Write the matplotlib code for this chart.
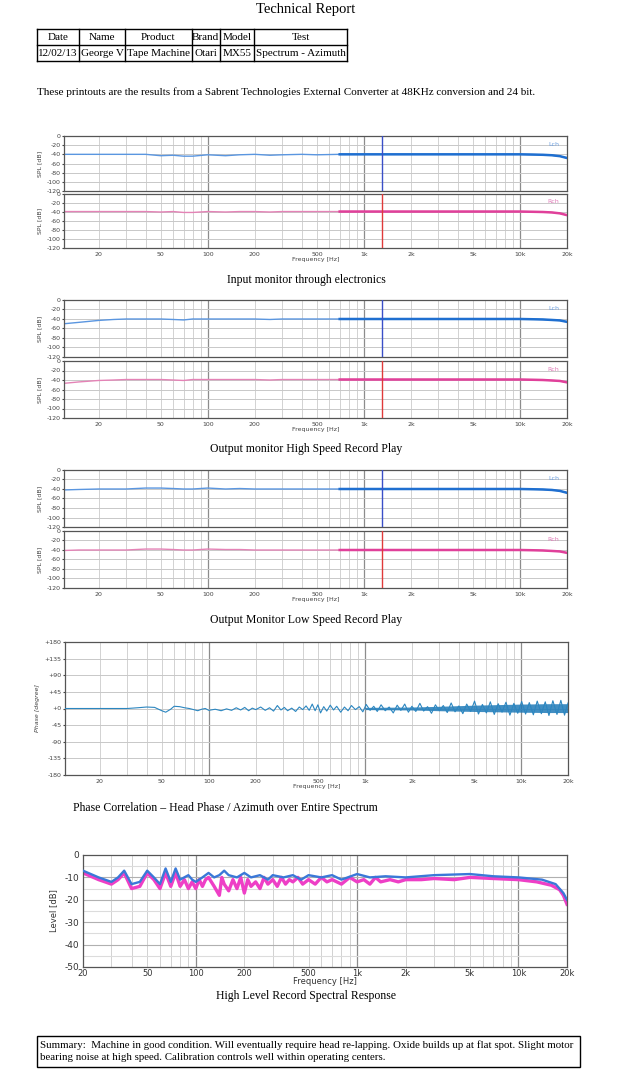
import numpy as np
import matplotlib.pyplot as plt

W, H = 637, 1080
SERIF = 'Liberation Serif'

# ---- table / text data
table_head = ['Date', 'Name', 'Product', 'Brand', 'Model', 'Test']
table_row = ['12/02/13', 'George V', 'Tape Machine', 'Otari', 'MX55', 'Spectrum - Azimuth']
intro = 'These printouts are the results from a Sabrent Technologies External Converter at 48KHz conversion and 24 bit.'
captions = ['Input monitor through electronics',
            'Output monitor High Speed Record Play',
            'Output Monitor Low Speed Record Play',
            'Phase Correlation \u2013 Head Phase / Azimuth over Entire Spectrum',
            'High Level Record Spectral Response']
summary = ('Summary:  Machine in good condition. Will eventually require head re-lapping. Oxide builds up at flat spot. Slight motor\n'
           'bearing noise at high speed. Calibration controls well within operating centers.')

# ---- SPL spectra (dB), three tests, left / right channel
spl_freq = [12, 15, 20, 25, 30, 40, 50, 60, 70, 80, 100, 130, 160, 200, 250, 300, 400, 500, 700,
            1000, 1300, 2000, 3000, 5000, 7000, 10000, 12000, 14000, 16000, 18000, 20000]
c1_lch = [-40, -40, -40, -40, -40, -40, -43, -42, -44, -44, -41, -43, -41, -40, -42, -41, -40, -41, -40,
          -40, -40, -40, -40, -40, -40, -40, -40.5, -41, -42, -44, -48]
c1_rch = [-39, -39, -39, -39, -39, -39, -40, -39, -41, -41, -39, -40, -39, -39, -40, -39, -39, -39, -39,
          -39, -39, -39, -39, -39, -39, -39, -39.5, -40, -41, -43, -47]
c2_lch = [-50, -47, -43, -41, -40, -40, -40, -41, -42, -40, -40, -40, -40, -40, -41, -40, -40, -40, -40,
          -40, -40, -40, -40, -40, -40, -40, -40.5, -41, -42, -43, -46]
c2_rch = [-47, -44, -41, -40, -39, -39, -39, -40, -41, -39, -39, -39, -39, -39, -40, -39, -39, -39, -39,
          -39, -39, -39, -39, -39, -39, -39, -39.5, -40, -41, -42, -45]
c3_lch = [-42, -41, -40, -40, -40, -38, -38, -39, -40, -40, -38, -40, -39, -40, -40, -40, -40, -40, -40,
          -40, -40, -40, -40, -40, -40, -40, -40.5, -41, -42, -44, -48]
c3_rch = [-41, -40, -40, -40, -40, -38, -38, -39, -40, -40, -38, -39, -39, -40, -40, -40, -40, -40, -40,
          -40, -40, -40, -40, -40, -40, -40, -40.5, -41, -42, -43, -46]
marker_freq = 1300

# ---- phase correlation (degrees)
phase_pts = [(12, 0), (15, 0), (20, 0), (25, 0), (30, 0), (35, 2), (40, 4), (45, 3), (50, -6), (53, -10),
             (57, -2), (60, 6), (65, 5), (70, 2), (75, 0), (80, -3), (85, -6), (90, -2), (95, 0), (100, -5),
             (110, -2), (120, -6), (130, -1), (140, -5), (150, 2), (160, -4), (170, 3), (180, -6), (190, 1),
             (200, -3), (215, 4), (230, -5), (245, 2), (260, -7), (275, 8), (290, -4), (305, 3), (320, -6),
             (340, 1), (360, -8), (380, 4), (400, -3), (420, 7), (440, -5), (460, 12), (480, -6), (500, 10),
             (520, -12), (545, 5), (570, -7), (600, 9), (630, -4), (660, 6), (700, -10), (740, 4), (780, -6),
             (820, 8), (870, -3), (920, 5), (970, -9), (1020, 11), (1080, -5), (1140, 6), (1200, -8),
             (1270, 10), (1350, -6), (1430, 4), (1520, -12), (1610, 9), (1700, -5), (1800, 12), (1900, -10),
             (2000, 6), (2120, -8), (2250, 14), (2380, -7), (2520, 5), (2670, -13), (2830, 10), (3000, -6),
             (3180, 8), (3370, -11), (3570, 15), (3780, -9), (4000, 7), (4240, -14), (4490, 12), (4760, -8),
             (5040, 20), (5340, -15), (5660, 11), (6000, -12), (6360, 18), (6740, -16), (7140, 13),
             (7560, -10), (8010, 17), (8490, -18), (9000, 14), (9530, -13), (10100, 19), (10700, -15),
             (11300, 16), (12000, -17), (12700, 20), (13500, -14), (14300, 18), (15100, -19), (16000, 21),
             (17000, -16), (18000, 22), (19000, -18), (20000, 15)]
phase_band_freq = [1000, 2000, 3000, 5000, 10000, 15000, 20000]
phase_band_lo = [-3, -4, -6, -8, -10, -11, -11]
phase_band_hi = [3, 4, 6, 9, 12, 13, 13]

# ---- high level record response (dB)
hl_lch = [(20, -7), (25, -10), (30, -12), (33, -10), (36, -7), (40, -13), (45, -12), (50, -7), (55, -10),
          (60, -13), (65, -6), (70, -12), (75, -6), (80, -11), (90, -9), (95, -11), (100, -12), (110, -10),
          (120, -8), (130, -10), (140, -9), (150, -7), (160, -9), (180, -10), (200, -8), (220, -10),
          (250, -9), (280, -11), (300, -9), (350, -10), (400, -9), (450, -11), (500, -9), (600, -10),
          (700, -9), (800, -11), (1000, -8.5), (1200, -10), (1500, -9.5), (2000, -10), (3000, -9),
          (5000, -8.5), (7000, -9.5), (10000, -10), (14000, -11), (17000, -13), (19000, -17), (20000, -20)]
hl_rch = [(20, -8), (25, -11), (30, -13), (33, -11), (36, -8), (40, -15), (45, -14), (50, -8), (55, -11),
          (60, -15), (65, -8), (70, -14), (75, -8), (80, -14), (85, -11), (90, -15), (95, -12), (100, -15),
          (105, -11), (110, -14), (115, -11), (120, -10), (130, -14), (140, -18), (145, -10), (150, -13),
          (160, -16), (170, -11), (180, -15), (190, -10), (200, -17), (210, -11), (220, -14), (235, -12),
          (250, -15), (265, -10), (280, -13), (300, -11), (320, -14), (340, -10), (360, -13), (380, -11),
          (400, -12), (430, -10), (460, -13), (500, -11), (550, -13), (600, -10), (650, -12), (700, -11),
          (800, -13), (900, -10), (1000, -12), (1100, -11), (1200, -13), (1300, -10), (1400, -12),
          (1600, -11), (1800, -12), (2000, -11), (2500, -11), (3000, -10.5), (4000, -11), (5000, -10),
          (7000, -10.5), (10000, -11), (13000, -12), (16000, -13.5), (18000, -15.5), (19000, -18),
          (20000, -22)]

freq_ticks = [20, 50, 100, 200, 500, 1000, 2000, 5000, 10000, 20000]
freq_labels = ['20', '50', '100', '200', '500', '1k', '2k', '5k', '10k', '20k']

fig = plt.figure(figsize=(W / 100, H / 100), dpi=100)
fig.patch.set_facecolor('white')


def pax(x0, y0, x1, y1):
    return fig.add_axes([x0 / W, 1 - y1 / H, (x1 - x0) / W, (y1 - y0) / H])


def freq_grid(ax, lo):
    minor = [f for d in (10, 100, 1000) for f in np.arange(2, 10) * d if f > lo]
    for f in minor:
        ax.axvline(f, color='#d2d2d2', lw=0.7, zorder=0)
    for f in (100, 1000, 10000):
        ax.axvline(f, color='#8c8c8c', lw=0.9, zorder=0)


def style_ax(ax, lo, hi):
    ax.set_xscale('log')
    ax.set_xlim(lo, hi)
    for s in ax.spines.values():
        s.set_color('#555555')
        s.set_linewidth(0.9)
    ax.minorticks_off()


def spl_panel(ax, lev, c_lf, c_hf, tag, c_tag, c_mark, bottom):
    style_ax(ax, 12, 20000)
    ax.set_ylim(-120, 0)
    freq_grid(ax, 12)
    ax.set_yticks(range(-120, 1, 20))
    ax.set_yticklabels([str(v) for v in range(-120, 1, 20)])
    for v in range(-100, 0, 20):
        ax.axhline(v, color='#c8c8c8', lw=0.7, zorder=0)
    ax.tick_params(axis='y', labelsize=4.5, colors='#444444', length=1.5, pad=1)
    f = np.array(spl_freq)
    l = np.array(lev)
    ax.plot(f, l, color=c_lf, lw=1.0, zorder=2)
    hf = f >= 700
    ax.plot(f[hf], l[hf], color=c_hf, lw=1.8, zorder=3)
    ax.axvline(marker_freq, color=c_mark, lw=1.0, zorder=4)
    ax.text(0.985, 0.9, tag, transform=ax.transAxes, ha='right', va='top', fontsize=4.5, color=c_tag)
    ax.set_ylabel('SPL [dB]', fontsize=4.5, color='#444444', labelpad=3)
    if bottom:
        ax.set_xticks(freq_ticks)
        ax.set_xticklabels(freq_labels)
        ax.tick_params(axis='x', labelsize=4.5, colors='#444444', length=0, pad=3)
        ax.set_xlabel('Frequency [Hz]', fontsize=4.5, color='#444444', labelpad=0)
    else:
        ax.set_xticks([])


# page layer in pixel coordinates
page = fig.add_axes([0, 0, 1, 1])
page.set_xlim(0, W)
page.set_ylim(H, 0)
page.axis('off')

page.text(306, 10, 'Technical Report', ha='center', va='center', fontsize=10.5, family=SERIF)
cols = [37, 79, 125, 191.5, 220, 254, 347]
rows = [29, 45, 61]
for x in cols:
    page.plot([x, x], [rows[0], rows[-1]], color='black', lw=1.0)
for y in rows:
    page.plot([cols[0], cols[-1]], [y, y], color='black', lw=1.0)
for i in range(len(table_head)):
    xc = (cols[i] + cols[i + 1]) / 2
    page.text(xc, 37.5, table_head[i], ha='center', va='center', fontsize=8, family=SERIF)
    page.text(xc, 53.5, table_row[i], ha='center', va='center', fontsize=8, family=SERIF)
page.text(37, 92, intro, ha='left', va='center', fontsize=8, family=SERIF)

page.text(306, 280, captions[0], ha='center', va='center', fontsize=8.5, family=SERIF)
page.text(306, 449, captions[1], ha='center', va='center', fontsize=8.5, family=SERIF)
page.text(306, 620, captions[2], ha='center', va='center', fontsize=8.5, family=SERIF)
page.text(73, 808, captions[3], ha='left', va='center', fontsize=8.5, family=SERIF)
page.text(306, 996, captions[4], ha='center', va='center', fontsize=8.5, family=SERIF)

page.add_patch(plt.Rectangle((37, 1036), 543, 31, fill=False, edgecolor='black', lw=1.0))
page.text(40, 1051.5, summary, ha='left', va='center', fontsize=7.8, family=SERIF, linespacing=1.4)

# SPL charts
blue_lf, blue_hf, pink_lf, pink_hf = '#5a96e0', '#1f6fd0', '#e483b6', '#e0409a'
panels = [(136, 191, 194, 248, c1_lch, c1_rch),
          (300, 357, 361, 418, c2_lch, c2_rch),
          (470, 527, 531, 588, c3_lch, c3_rch)]
for t0, t1, b0, b1, lch, rch in panels:
    a1 = pax(64, t0, 567, t1)
    spl_panel(a1, lch, blue_lf, blue_hf, 'Lch', '#6a9ee0', '#3a4fc8', False)
    a2 = pax(64, b0, 567, b1)
    spl_panel(a2, rch, pink_lf, pink_hf, 'Rch', '#e07ab8', '#e03a3a', True)

# phase chart
ap = pax(65, 642, 568, 775)
style_ax(ap, 12, 20000)
ap.set_ylim(-180, 180)
freq_grid(ap, 12)
ph_ticks = list(range(-180, 181, 45))
ap.set_yticks(ph_ticks)
ap.set_yticklabels([('+' if v >= 0 else '') + str(v) for v in ph_ticks])
for v in ph_ticks[1:-1]:
    ap.axhline(v, color='#c8c8c8', lw=0.7, zorder=0)
ap.tick_params(axis='y', labelsize=4.5, colors='#444444', length=1.5, pad=1)
ap.set_xticks(freq_ticks)
ap.set_xticklabels(freq_labels)
ap.tick_params(axis='x', labelsize=4.5, colors='#444444', length=0, pad=3)
ap.set_xlabel('Frequency [Hz]', fontsize=4.5, color='#444444', labelpad=0)
ap.set_ylabel('Phase [degree]', fontsize=4.5, color='#444444', labelpad=3, style='italic')
pf, pd_ = np.array(phase_pts).T
ap.fill_between(phase_band_freq, phase_band_lo, phase_band_hi, color='#1f7ab8', lw=0, alpha=0.85, zorder=2)
ap.plot(pf, pd_, color='#2b86c0', lw=0.8, zorder=3)

# high level record response
ah = pax(83, 855, 567, 967)
style_ax(ah, 20, 20000)
ah.set_ylim(-50, 0)
freq_grid(ah, 20)
for v in range(-45, 0, 5):
    ah.axhline(v, color='#b0b0b0' if v % 10 == 0 else '#dcdcdc', lw=0.8, zorder=0)
ah.set_yticks(range(-50, 1, 10))
ah.set_yticklabels([str(v) for v in range(-50, 1, 10)])
ah.tick_params(axis='y', labelsize=6.5, colors='#333333', length=0, pad=3)
ah.set_xticks(freq_ticks)
ah.set_xticklabels(freq_labels)
ah.tick_params(axis='x', labelsize=6, colors='#333333', length=0, pad=1.5)
ah.set_xlabel('Frequency [Hz]', fontsize=6, color='#333333', labelpad=-1)
ah.set_ylabel('Level [dB]', fontsize=6, color='#333333', labelpad=4)
rf, rl = np.array(hl_rch).T
lf, ll = np.array(hl_lch).T
ah.plot(rf, rl, color='#ee3fc6', lw=2.4, zorder=2)
ah.plot(lf, ll, color='#3a78d8', lw=1.7, zorder=3)

fig.savefig('out.png', dpi=100)
